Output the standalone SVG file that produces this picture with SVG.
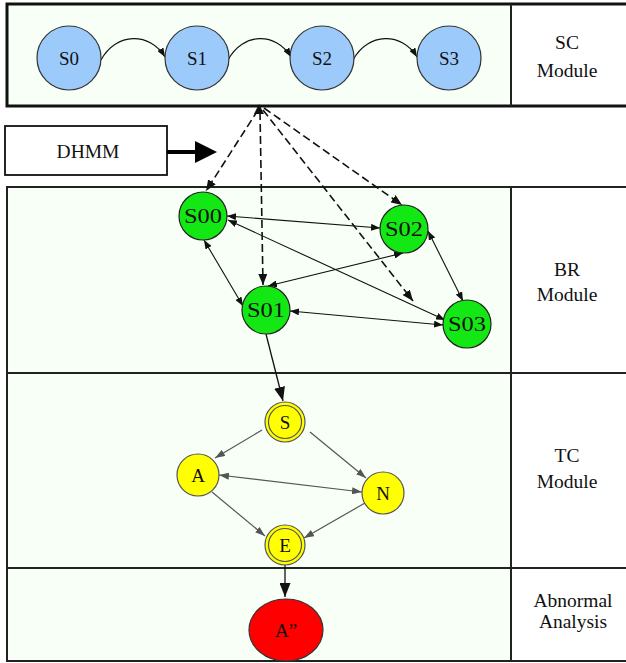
<svg xmlns="http://www.w3.org/2000/svg" width="626" height="663" viewBox="0 0 626 663">
<style>
.lbl{font-family:"Liberation Serif","Times New Roman",serif;font-size:19.5px;fill:#111;text-anchor:middle}
.nl{font-family:"Liberation Serif","Times New Roman",serif;font-size:19px;fill:#111;text-anchor:middle}
.gl{font-family:"Liberation Serif","Times New Roman",serif;font-size:20px;fill:#111;text-anchor:middle}
.pane{fill:#f7fff7}
.bl{stroke:#222;stroke-width:2;fill:none}
.blue{fill:#9ccbfb;stroke:#333;stroke-width:1.2}
.green{fill:#14e814;stroke:#222;stroke-width:1.2}
.yel{fill:#ffff00;stroke:#555;stroke-width:1.2}
.red{fill:#ff0000;stroke:#333;stroke-width:1.2}
.solid{stroke:#111;stroke-width:1.1;fill:none}
.gray{stroke:#555;stroke-width:1.2;fill:none}
.dash{stroke:#111;stroke-width:1.6;fill:none;stroke-dasharray:8 4}
</style>
<defs>
<marker id="ah" markerUnits="userSpaceOnUse" markerWidth="9" markerHeight="7" refX="9" refY="3.5" orient="auto-start-reverse"><path d="M0,0 L9,3.5 L0,7 z" fill="#111"/></marker>
<marker id="ahg" markerUnits="userSpaceOnUse" markerWidth="10" markerHeight="7" refX="10" refY="3.5" orient="auto-start-reverse"><path d="M0,0 L10,3.5 L0,7 z" fill="#555"/></marker>
<marker id="ahd" markerUnits="userSpaceOnUse" markerWidth="11" markerHeight="9" refX="11" refY="4.5" orient="auto-start-reverse"><path d="M0,0 L11,4.5 L0,9 z" fill="#111"/></marker>
<marker id="ahb" markerUnits="userSpaceOnUse" markerWidth="14" markerHeight="11" refX="14" refY="5.5" orient="auto"><path d="M0,0 L14,5.5 L0,11 z" fill="#111"/></marker>
</defs>
<rect width="626" height="663" fill="#ffffff"/>

<g id="sc-module">
<rect class="pane" x="7" y="4" width="504" height="102"/>
<rect x="7" y="4" width="630" height="102" fill="none" stroke="#111" stroke-width="3"/>
<line x1="511" y1="4" x2="511" y2="106" stroke="#222" stroke-width="2"/>
<text class="lbl" x="567" y="49">SC</text>
<text class="lbl" x="567" y="77">Module</text>
</g>

<g id="main-panel">
<rect class="pane" x="7" y="187" width="504" height="474"/>
<rect x="7" y="187" width="630" height="474" fill="none" stroke="#222" stroke-width="2"/>
<line class="bl" x1="511" y1="187" x2="511" y2="661"/>
<line class="bl" x1="7" y1="373" x2="626" y2="373"/>
<line class="bl" x1="7" y1="568" x2="626" y2="568"/>
<text class="lbl" x="567" y="276">BR</text>
<text class="lbl" x="567" y="301">Module</text>
<text class="lbl" x="567" y="462">TC</text>
<text class="lbl" x="567" y="488">Module</text>
<text class="lbl" x="573" y="607">Abnormal</text>
<text class="lbl" x="573" y="628">Analysis</text>
</g>

<g id="dhmm">
<rect x="5" y="126" width="162" height="49" fill="#fff" stroke="#111" stroke-width="1.8"/>
<text class="lbl" x="88" y="158">DHMM</text>
<line x1="167" y1="152" x2="198" y2="152" stroke="#000" stroke-width="4"/>
<polygon points="195,141 217,152 195,163" fill="#000"/>
</g>

<g id="connectors">
<path class="solid" d="M101,60 C116,32 150,32 165,57" marker-end="url(#ah)"/>
<path class="solid" d="M228,60 C243,32 276,32 291,57" marker-end="url(#ah)"/>
<path class="solid" d="M353,60 C368,32 402,32 417,57" marker-end="url(#ah)"/>

<polygon points="259,104 254,114 264,114" fill="#111"/>
<line class="dash" x1="258" y1="110" x2="206" y2="191" marker-end="url(#ahd)"/>
<line class="dash" x1="260" y1="112" x2="263" y2="285" marker-end="url(#ahd)"/>
<line class="dash" x1="263" y1="110" x2="413" y2="301" marker-end="url(#ahd)"/>
<line class="dash" x1="264" y1="108" x2="402" y2="205" marker-end="url(#ahd)"/>

<line class="solid" x1="227" y1="216" x2="380" y2="228" marker-start="url(#ah)" marker-end="url(#ah)"/>
<line class="solid" x1="204" y1="240" x2="243" y2="306" marker-start="url(#ah)" marker-end="url(#ah)"/>
<line class="solid" x1="403" y1="253" x2="268" y2="286" marker-start="url(#ah)" marker-end="url(#ah)"/>
<line class="solid" x1="228" y1="220" x2="445" y2="320" marker-start="url(#ah)" marker-end="url(#ah)"/>
<line class="solid" x1="290" y1="311" x2="443" y2="325" marker-start="url(#ah)" marker-end="url(#ah)"/>
<line class="solid" x1="428" y1="231" x2="463" y2="301" marker-start="url(#ah)" marker-end="url(#ah)"/>

<line x1="266" y1="334" x2="283" y2="401" stroke="#111" stroke-width="1.3" marker-end="url(#ahb)"/>

<line class="gray" x1="262" y1="430" x2="215" y2="458" marker-end="url(#ahg)"/>
<line class="gray" x1="310" y1="432" x2="366" y2="478" marker-end="url(#ahg)"/>
<line class="gray" x1="219" y1="475" x2="362" y2="492" marker-start="url(#ahg)" marker-end="url(#ahg)"/>
<line class="gray" x1="212" y1="492" x2="265" y2="536" marker-end="url(#ahg)"/>
<line class="gray" x1="365" y1="503" x2="304" y2="538" marker-end="url(#ahg)"/>

<line x1="285" y1="565" x2="285" y2="597" stroke="#111" stroke-width="1.3" marker-end="url(#ahb)"/>
</g>

<g id="S0"><circle class="blue" cx="69" cy="58" r="32"/><text class="nl" x="69" y="65">S0</text></g>
<g id="S1"><circle class="blue" cx="197" cy="58" r="32"/><text class="nl" x="197" y="65">S1</text></g>
<g id="S2"><circle class="blue" cx="322" cy="58" r="32"/><text class="nl" x="322" y="65">S2</text></g>
<g id="S3"><circle class="blue" cx="449" cy="58" r="32"/><text class="nl" x="449" y="65">S3</text></g>

<g id="S00"><circle class="green" cx="203" cy="216" r="24"/><text class="gl" x="203" y="223" textLength="38" lengthAdjust="spacingAndGlyphs">S00</text></g>
<g id="S02"><circle class="green" cx="404" cy="229" r="24"/><text class="gl" x="404" y="236" textLength="38" lengthAdjust="spacingAndGlyphs">S02</text></g>
<g id="S01"><circle class="green" cx="266" cy="310" r="24"/><text class="gl" x="266" y="317" textLength="38" lengthAdjust="spacingAndGlyphs">S01</text></g>
<g id="S03"><circle class="green" cx="467" cy="324" r="24"/><text class="gl" x="467" y="331" textLength="38" lengthAdjust="spacingAndGlyphs">S03</text></g>

<g id="S"><circle class="yel" cx="285" cy="422" r="20"/><circle class="yel" cx="285" cy="422" r="16.5"/><text class="nl" x="285" y="429">S</text></g>
<g id="A"><circle class="yel" cx="198" cy="475" r="21"/><text class="nl" x="198" y="482">A</text></g>
<g id="N"><circle class="yel" cx="383" cy="493" r="21"/><text class="nl" x="383" y="500">N</text></g>
<g id="E"><circle class="yel" cx="285" cy="545" r="20"/><circle class="yel" cx="285" cy="545" r="16.5"/><text class="nl" x="285" y="552">E</text></g>

<g id="A2"><ellipse class="red" cx="286" cy="630" rx="37" ry="31"/><text class="nl" x="286" y="637">A”</text></g>
</svg>
